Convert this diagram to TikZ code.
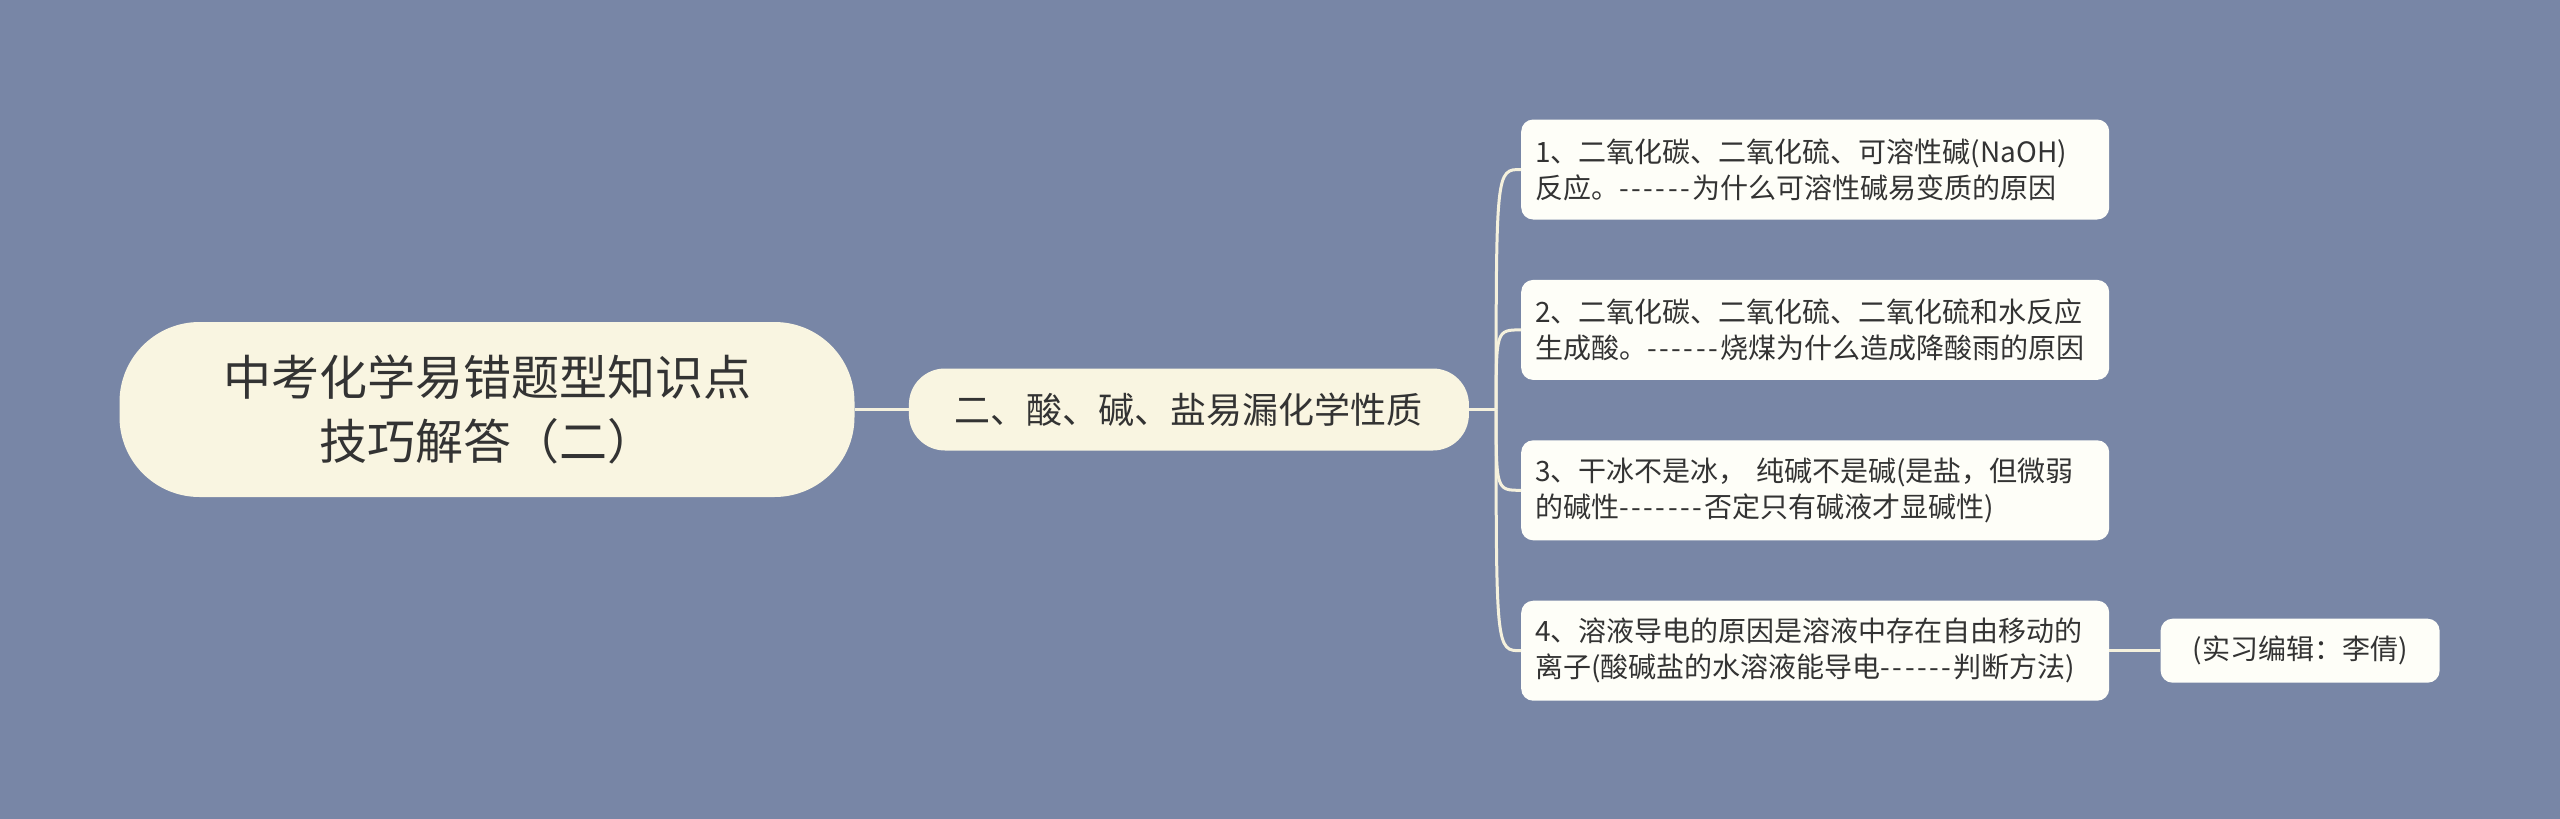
\documentclass[tikz,border=0pt]{standalone}
\usepackage{fontspec}
\usepackage{xcolor}
\usepackage{tikz}
\usetikzlibrary{positioning}
\newfontfamily\cjk[Ligatures=TeXOff]{Noto Sans CJK SC}
\definecolor{mapbg}{RGB}{120,134,166}
\definecolor{rootfill}{RGB}{249,245,225}
\definecolor{leaffill}{RGB}{254,254,248}
\definecolor{linkcol}{RGB}{245,241,221}
\definecolor{inkcol}{RGB}{51,51,51}
% a run of wider hyphens
\newcommand{\dashrun}[1]{\foreach \i in {1,...,#1}{-\kern2.5pt}}

\begin{document}
\begin{tikzpicture}[
    x=1pt, y=-1pt,
    text=inkcol,
    topic/.style={rectangle, rounded corners=80pt, fill=rootfill, align=center,
                  minimum width=735pt, minimum height=175pt,
                  font=\cjk\fontsize{48}{64}\selectfont},
    branch/.style={rectangle, rounded corners=36pt, fill=rootfill,
                   minimum width=560pt, minimum height=82pt,
                   font=\cjk\fontsize{36}{44}\selectfont},
    leaf/.style={rectangle, rounded corners=12pt, fill=leaffill, align=left,
                 text width=560pt, inner xsep=14pt, minimum height=100pt,
                 font=\cjk\fontsize{28}{36}\selectfont},
    note/.style={rectangle, rounded corners=12pt, fill=leaffill,
                 minimum width=279pt, minimum height=64pt,
                 font=\cjk\fontsize{28}{36}\selectfont},
    link/.style={draw=linkcol, line width=3pt}
  ]
    \fill[mapbg] (0,0) rectangle (2560,819);
    \useasboundingbox (0,0) rectangle (2560,819);

    \node[topic] (root) at (487,409.5) {中考化学易错题型知识点\\技巧解答（二）};
    \node[branch, right=54pt of root] (br) {二、酸、碱、盐易漏化学性质};

    \node[leaf, anchor=west] (l1) at (1521,169.5)
        {1、二氧化碳、二氧化硫、可溶性碱(NaOH)\\反应。\dashrun{6}为什么可溶性碱易变质的原因};
    \node[leaf, below=60pt of l1.south west, anchor=north west] (l2)
        {2、二氧化碳、二氧化硫、二氧化硫和水反应\\生成酸。\dashrun{6}烧煤为什么造成降酸雨的原因};
    \node[leaf, below=60pt of l2.south west, anchor=north west] (l3)
        {3、干冰不是冰， 纯碱不是碱(是盐，但微弱\\的碱性\dashrun{7}否定只有碱液才显碱性)};
    \node[leaf, below=60pt of l3.south west, anchor=north west] (l4)
        {4、溶液导电的原因是溶液中存在自由移动的\\离子(酸碱盐的水溶液能导电\dashrun{6}判断方法)};
    \node[note, right=51pt of l4] (l5) {(实习编辑：李倩)};

    \coordinate (hub) at ([xshift=27pt]br.east);

    \draw[link] (root) -- (br);
    \draw[link] (br.east) -- (hub);
    \foreach \n in {l1,l2,l3,l4}
        \draw[link] (hub) .. controls (hub |- \n.west) and (hub |- \n.west) .. (\n.west);
    \draw[link] (l4) -- (l5);
\end{tikzpicture}
\end{document}
